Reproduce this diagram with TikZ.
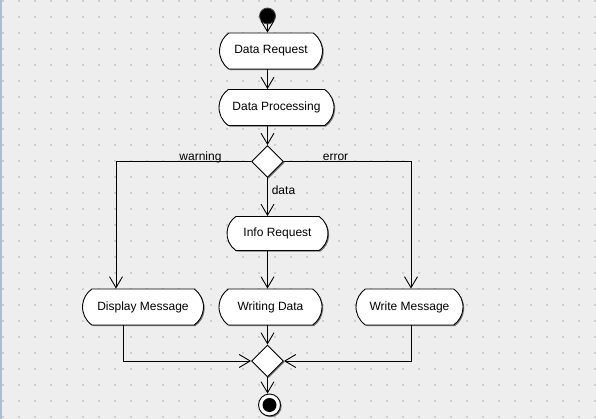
\documentclass[tikz,border=0pt]{standalone}
\usepackage{fontspec}
\setmainfont{Liberation Sans}
\usetikzlibrary{arrows.meta,shapes.geometric,shapes.misc,shadows}
\definecolor{bg}{HTML}{EEEEEE}
\definecolor{gdot}{HTML}{D0D0D0}
\definecolor{edgeblue}{HTML}{A9BDD6}
\begin{document}
\begin{tikzpicture}[x=1pt,y=-1pt,
  shad/.style={drop shadow={shadow xshift=1.2pt, shadow yshift=-1.2pt, fill=black!55, opacity=1}},
  act/.style={rounded rectangle, rounded rectangle arc length=110, draw=black, line width=0.9pt,
    fill=white, minimum height=36pt, inner sep=0pt, font=\fontsize{12}{14}\selectfont, shad},
  dec/.style={diamond, draw=black, fill=white, minimum width=32pt, minimum height=32pt,
    inner sep=0pt, line width=0.9pt, shad},
  arr/.style={-{Straight Barb[length=11pt,width=13pt]}, line width=0.9pt},
  ln/.style={line width=0.9pt},
  lbl/.style={font=\fontsize{12}{14}\selectfont, inner sep=0pt, anchor=base}]
\useasboundingbox (0,0) rectangle (596,419);
\fill[bg] (0,0) rectangle (596,419);
\foreach \i in {0,...,37} {
  \foreach \j in {0,...,26} {
    \fill[gdot] ({2+16*\i},{16*\j}) rectangle +(2,2);
  }
}
\fill[edgeblue] (0,0) rectangle (1.5,419);

% nodes
\node[circle, fill=black, draw=black!70, line width=0.8pt, minimum size=16pt, inner sep=0pt] (start) at (267.5,16) {};
\node[act, minimum width=103pt] (dr) at (271,51) {Data Request};
\node[act, minimum width=115pt] (dp) at (276.5,107.5) {Data Processing};
\node[dec] (d1) at (267.5,161.5) {};
\node[act, minimum width=101pt, minimum height=34pt] (ir) at (277.5,233.5) {Info Request};
\node[act, minimum width=121pt] (dm) at (143,307) {Display Message};
\node[act, minimum width=103pt] (wd) at (270.5,307) {Writing Data};
\node[act, minimum width=107pt] (wm) at (409.5,307) {Write Message};
\node[dec] (d2) at (267.5,361) {};
\node[circle, draw=black, line width=0.9pt, fill=white, minimum size=22pt, inner sep=0pt, shad] (end) at (269.5,405) {};
\fill[black] (end.center) circle (7pt);

% connectors
\draw[arr] (start) -- (start |- dr.north);
\draw[arr] (dr.south -| d1) -- (dp.north -| d1);
\draw[arr] (dp.south -| d1) -- (d1.north);
\draw[arr] (d1.south) -- (ir.north -| d1);
\draw[arr] (d1.west) -| ([xshift=-27pt]dm.north);
\draw[arr] (d1.east) -| ([xshift=1.5pt]wm.north);
\draw[arr] (ir.south -| d1) -- (wd.north -| d1);
\draw[arr] ([xshift=-20pt]dm.south) |- (d2.west);
\draw[arr] (wd.south -| d2) -- (d2.north);
\draw[arr] ([xshift=2pt]wm.south) |- (d2.east);
\draw[arr] (d2.south) -- (d2.south |- end.north);

% labels
\node[lbl] (lw) at (200.5,160.5) {warning};
\node[lbl] (le) at (335.5,160.5) {error};
\node[lbl] (ld) at (283.5,195) {data};
\end{tikzpicture}
\end{document}
